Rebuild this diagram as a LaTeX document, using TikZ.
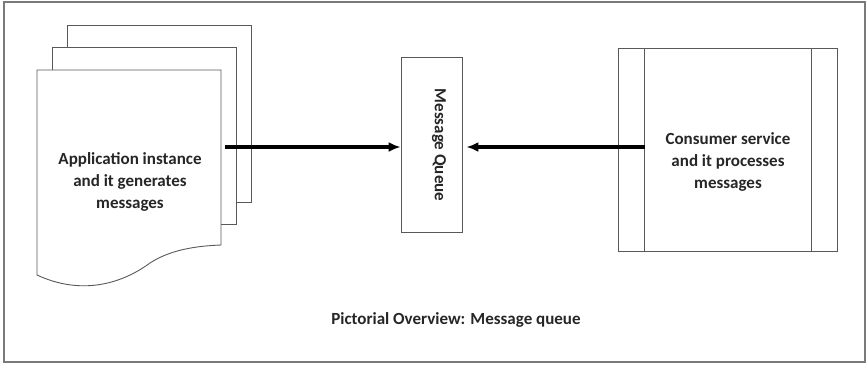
\documentclass[tikz,border=0pt]{standalone}
\usepackage{fontspec}
\setmainfont{Carlito}
\usetikzlibrary{arrows.meta,calc,positioning}
\definecolor{boxgray}{rgb}{0.35,0.35,0.35}
\tikzset{
  page/.style={draw=boxgray, fill=white, line width=0.9pt},
  label/.style={font=\bfseries\fontsize{17}{22}\selectfont, align=center, text=black!85},
  flow/.style={-{Latex[length=12pt,width=10pt]}, line width=3.2pt},
}

\begin{document}
\begin{tikzpicture}[x=1pt,y=-1pt]
                \useasboundingbox (0,0) rectangle (867,365);
                \draw[boxgray!80, line width=1.6pt] (4,2) rectangle (865,362);
                % stacked documents
                \def\w{184}
                \def\h{177}
                \draw[page] (67,25) rectangle ++(\w,\h);
                \draw[page] (52,47) rectangle ++(\w,\h);
                \filldraw[page] (37,70) -- (221,70) -- (221,245)
                    .. controls (195,246) and (170,250) .. (150,263)
                    .. controls (120,285) and (80,295) .. (37,275) -- cycle;
                \node[label] (app) at (130,182) {Application instance\\and it generates\\messages};
                % queue
                \node[draw=boxgray, line width=0.9pt, minimum width=61pt, minimum height=175pt] (queue) at (431.5,144.5) {};
                \node[label, rotate=-90] (qlabel) at (439,145) {Message Queue};
                % consumer
                \node[draw=boxgray, line width=0.9pt, minimum width=219pt, minimum height=203pt] (cons) at (727.5,149.5) {};
                \draw[boxgray, line width=1.4pt] ([xshift=27pt]cons.north west) -- ([xshift=27pt]cons.south west);
                \draw[boxgray, line width=0.9pt] ([xshift=-26pt]cons.north east) -- ([xshift=-26pt]cons.south east);
                \node[label] (clabel) at (728,162) {Consumer service\\and it processes\\messages};
                \coordinate (appout) at (225,147);
                \coordinate (consin) at (645,147);
                \draw[flow] (appout) -- (appout -| queue.west);
                \draw[flow] (consin) -- ([xshift=4pt]consin -| queue.east);
                % caption
                \node[label] (caption) at (456,320) {Pictorial Overview: Message queue};
\end{tikzpicture}
\end{document}
